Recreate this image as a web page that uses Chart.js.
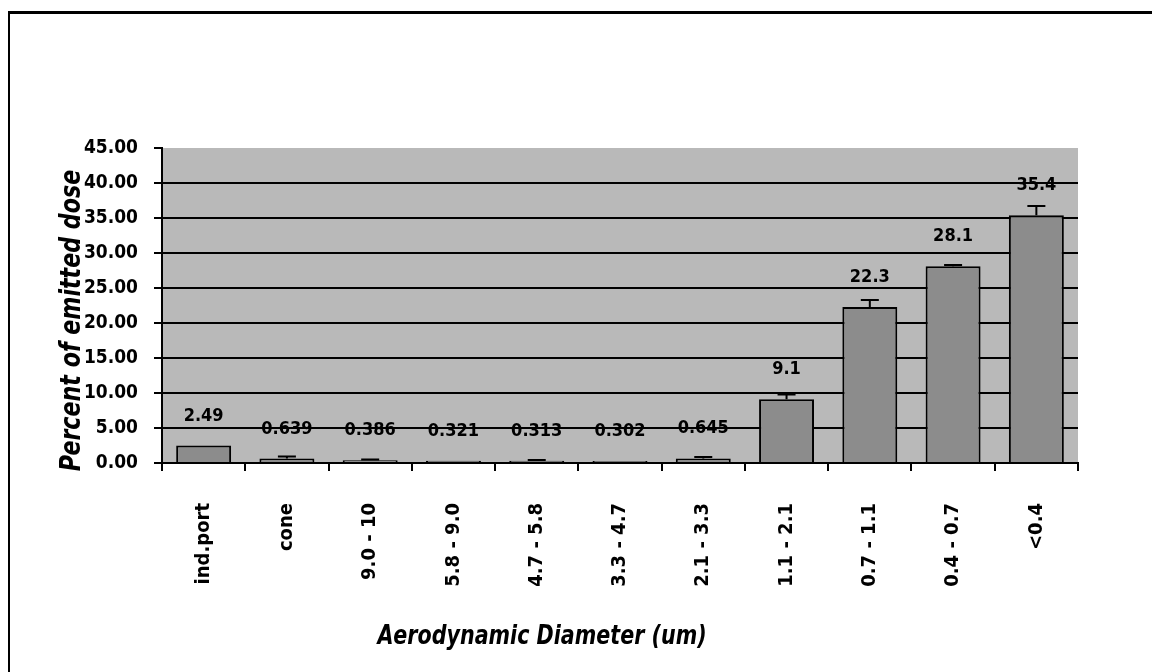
<!DOCTYPE html>
<html>
<head>
<meta charset="utf-8">
<script src="https://cdn.jsdelivr.net/npm/chart.js@4"></script>
<style>
    body { margin: 0; background: #fff; }
    #wrap { position: relative; width: 1152px; height: 672px; overflow: hidden; }
    #frame { position: absolute; left: 8px; top: 11px; width: 1150px; height: 670px;
             border-top: 3px solid #000; border-left: 2px solid #000; }
    #chart { position: absolute; left: 0; top: 0; }
</style>
</head>
<body>
<div id="wrap">
    <div id="frame"></div>
    <canvas id="chart" width="1152" height="672"></canvas>
</div>
<script>
// data
const categories = ['ind.port', 'cone', '9.0 - 10', '5.8 - 9.0', '4.7 - 5.8', '3.3 - 4.7', '2.1 - 3.3', '1.1 - 2.1', '0.7 - 1.1', '0.4 - 0.7', '<0.4'];
const percentValues = [2.49, 0.639, 0.386, 0.321, 0.313, 0.302, 0.645, 9.1, 22.3, 28.1, 35.4];
const errorValues = [0, 0.3, 0.1, 0, 0.1, 0, 0.2, 0.7, 1.0, 0.2, 1.3];
const valueLabels = ['2.49', '0.639', '0.386', '0.321', '0.313', '0.302', '0.645', '9.1', '22.3', '28.1', '35.4'];
const yMin = 0, yMax = 45, yStep = 5;

const xTitle = 'Aerodynamic Diameter (um)';
const yTitle = 'Percent of emitted dose';

const fontFamily = '"DejaVu Sans Condensed", "DejaVu Sans", sans-serif';
const tickFont = { family: fontFamily, size: 19, weight: 'bold' };
const xTickFont = { family: fontFamily, size: 20, weight: 'bold' };

// gray plot background
const plotBackground = {
    id: 'plotBackground',
    beforeDraw(chart) {
        const a = chart.chartArea, ctx = chart.ctx;
        ctx.save();
        ctx.fillStyle = '#b9b9b9';
        ctx.fillRect(a.left, a.top, a.right - a.left, a.bottom - a.top);
        ctx.restore();
    }
};

// error caps and value labels above bars
const barExtras = {
    id: 'barExtras',
    afterDatasetsDraw(chart) {
        const ctx = chart.ctx, y = chart.scales.y;
        const meta = chart.getDatasetMeta(0);
        ctx.save();
        ctx.strokeStyle = '#000';
        ctx.lineWidth = 2;
        meta.data.forEach(function (bar, i) {
            const err = errorValues[i];
            if (err > 0) {
                const top = y.getPixelForValue(percentValues[i]);
                const cap = y.getPixelForValue(percentValues[i] + err);
                ctx.beginPath();
                ctx.moveTo(bar.x, top);
                ctx.lineTo(bar.x, cap);
                ctx.moveTo(bar.x - 9, cap);
                ctx.lineTo(bar.x + 9, cap);
                ctx.stroke();
            }
        });
        ctx.fillStyle = '#000';
        ctx.font = 'bold 18px ' + fontFamily;
        ctx.textAlign = 'center';
        ctx.textBaseline = 'alphabetic';
        meta.data.forEach(function (bar, i) {
            ctx.fillText(valueLabels[i], bar.x, bar.y - 25);
        });
        ctx.restore();
    }
};

// axis titles (narrowed along the text to get the tall condensed look)
const axisTitles = {
    id: 'axisTitles',
    afterDraw(chart) {
        const a = chart.chartArea, ctx = chart.ctx;
        ctx.fillStyle = '#000';
        ctx.textAlign = 'center';
        ctx.textBaseline = 'middle';

        ctx.save();
        ctx.font = 'italic bold 27px ' + fontFamily;
        ctx.translate(a.left + 380, a.bottom + 174);
        ctx.scale(0.85, 1);
        ctx.fillText(xTitle, 0, 0);
        ctx.restore();

        ctx.save();
        ctx.font = 'italic bold 29px ' + fontFamily;
        ctx.translate(a.left - 90, (a.top + a.bottom) / 2 + 15);
        ctx.rotate(-Math.PI / 2);
        ctx.scale(0.85, 1);
        ctx.fillText(yTitle, 0, 0);
        ctx.restore();
    }
};

const chart = new Chart(document.getElementById('chart'), {
    type: 'bar',
    data: {
        labels: categories,
        datasets: [{
            data: percentValues,
            backgroundColor: '#8c8c8c',
            borderColor: '#000',
            borderWidth: 2,
            categoryPercentage: 1,
            barPercentage: 0.66
        }]
    },
    options: {
        responsive: false,
        animation: false,
        layout: { padding: { left: 82, top: 148, right: 74, bottom: 29 } },
        plugins: {
            legend: { display: false },
            tooltip: { enabled: false }
        },
        scales: {
            x: {
                afterFit(scale) { scale.height = 180; },
                grid: { drawOnChartArea: false, drawTicks: true, tickLength: 8, color: '#000', lineWidth: 2 },
                border: { display: true, color: '#000', width: 2 },
                ticks: { color: '#000', font: xTickFont, minRotation: 90, maxRotation: 90, padding: 32, autoSkip: false }
            },
            y: {
                min: yMin,
                max: yMax,
                afterFit(scale) { scale.width = 80; },
                grid: {
                    color: function (c) { return (c.tick && c.tick.value === yMax) ? 'rgba(0,0,0,0)' : '#000'; },
                    tickColor: '#000',
                    lineWidth: 2,
                    tickLength: 8
                },
                border: { display: true, color: '#000', width: 2 },
                ticks: {
                    stepSize: yStep,
                    color: '#000',
                    font: tickFont,
                    padding: 16,
                    callback: function (v) { return Number(v).toFixed(2); }
                }
            }
        }
    },
    plugins: [plotBackground, barExtras, axisTitles]
});
</script>
</body>
</html>
